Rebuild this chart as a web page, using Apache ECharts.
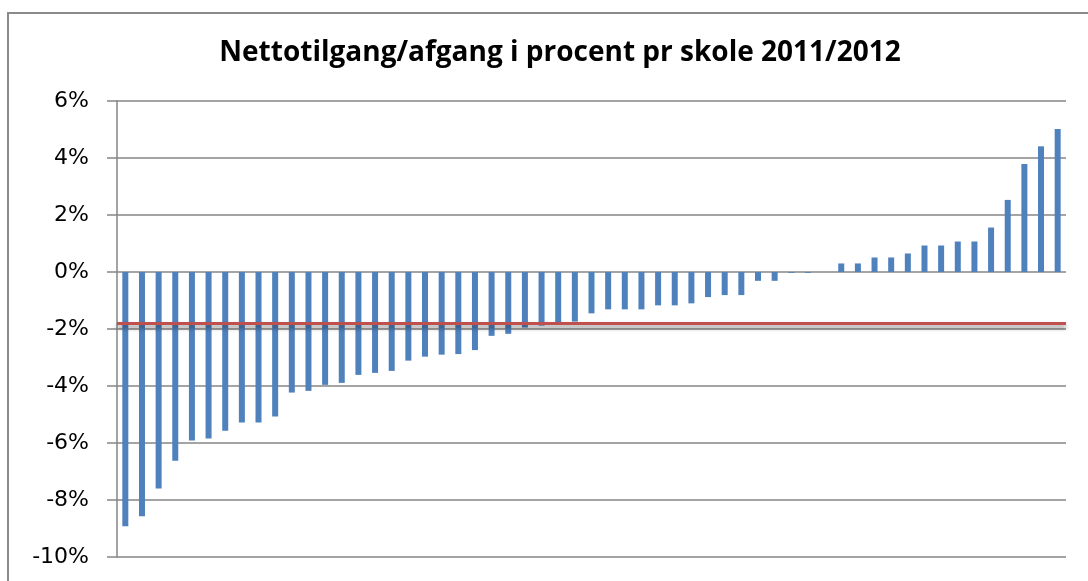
<!DOCTYPE html>
<html>
<head>
<meta charset="utf-8">
<script src="https://cdn.jsdelivr.net/npm/echarts@6/dist/echarts.min.js"></script>
<style>
	html, body { margin: 0; padding: 0; background: #fff; }
	#chart { width: 1088px; height: 581px; }
</style>
</head>
<body>
<div id="chart"></div>
<script>
// schools, sorted by net change
const schools = [
	'1', '2', '3', '4', '5', '6', '7', '8', '9', '10',
	'11', '12', '13', '14', '15', '16', '17', '18', '19', '20',
	'21', '22', '23', '24', '25', '26', '27', '28', '29', '30',
	'31', '32', '33', '34', '35', '36', '37', '38', '39', '40',
	'41', '42', '43', '44', '45', '46', '47', '48', '49', '50',
	'51', '52', '53', '54', '55', '56', '57'
]

// net intake/outflow in percent
const netChange = [
	-8.92, -8.57, -7.60, -6.62, -5.91, -5.84, -5.57, -5.28, -5.28, -5.07,
	-4.23, -4.17, -3.96, -3.89, -3.61, -3.54, -3.47, -3.11, -2.97, -2.90,
	-2.88, -2.74, -2.24, -2.17, -1.95, -1.88, -1.76, -1.74, -1.45, -1.31,
	-1.31, -1.31, -1.17, -1.17, -1.10, -0.88, -0.81, -0.81, -0.31, -0.31,
	-0.03, -0.03, 0, 0.30, 0.30, 0.51, 0.51, 0.65, 0.93, 0.93,
	1.07, 1.07, 1.56, 2.53, 3.79, 4.41, 5.02
]

// overall average, red line
const avgLine = -1.8

const yTicks = { min: -10, max: 6, interval: 2 }

const chart = echarts.init(document.getElementById('chart'), null, { renderer: 'canvas' })

chart.setOption({
	animation: false,
	backgroundColor: '#fff',
	title: {
		text: 'Nettotilgang/afgang i procent pr skole 2011/2012',
		left: 555,
		top: 34,
		textAlign: 'center',
		textStyle: {
			fontFamily: 'Open Sans',
			fontWeight: 'bold',
			fontSize: 28,
			color: '#000'
		}
	},
	graphic: [
		{
			type: 'rect',
			shape: { x: 8, y: 13, width: 1200, height: 700 },
			style: { fill: 'none', stroke: '#8a8a8a', lineWidth: 2 },
			silent: true,
			z: -1
		}
	],
	grid: {
		left: 117,
		right: 22,
		top: 101,
		bottom: 24
	},
	xAxis: {
		type: 'category',
		data: schools,
		axisLine: { show: false },
		axisTick: { show: false },
		axisLabel: { show: false },
		splitLine: { show: false }
	},
	yAxis: {
		type: 'value',
		min: yTicks.min,
		max: yTicks.max,
		interval: yTicks.interval,
		axisLine: { show: true, lineStyle: { color: '#868686', width: 1.5 } },
		axisTick: { show: true, length: 10, lineStyle: { color: '#868686', width: 1.5 } },
		axisLabel: {
			formatter: '{value}%',
			margin: 28,
			fontFamily: 'DejaVu Sans',
			fontSize: 22,
			color: '#000'
		},
		splitLine: { show: true, lineStyle: { color: '#868686', width: 1.5 } }
	},
	series: [
		{
			type: 'bar',
			data: netChange,
			barWidth: 6,
			itemStyle: { color: '#4F81BD' },
			markLine: {
				silent: true,
				symbol: 'none',
				label: { show: false },
				data: [{ yAxis: avgLine }],
				lineStyle: {
					color: '#C0504D',
					width: 3,
					type: 'solid',
					shadowColor: 'rgba(0,0,0,0.45)',
					shadowBlur: 4,
					shadowOffsetY: 3
				}
			}
		}
	]
})
</script>
</body>
</html>
